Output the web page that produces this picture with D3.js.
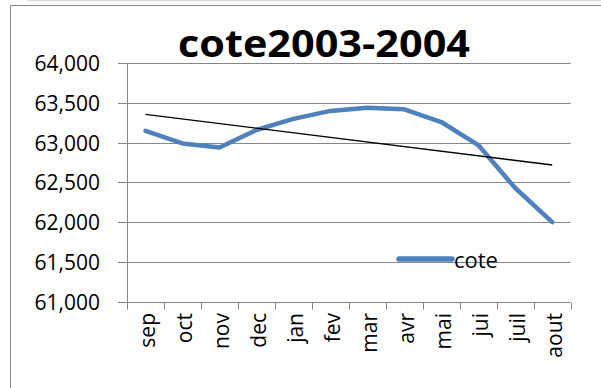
<!DOCTYPE html>
<html>
<head>
<meta charset="utf-8">
<script src="https://cdn.jsdelivr.net/npm/d3@7"></script>
<style>
  html, body { margin: 0; padding: 0; background: #fff; }
  svg { display: block; }
  text { font-family: "Open Sans", "Noto Sans", sans-serif; fill: #000; }
</style>
</head>
<body>
<svg id="chart" width="601" height="388"></svg>
<script>
// Monthly water level ("cote") for the 2003-2004 season
const months = ["sep", "oct", "nov", "dec", "jan", "fev", "mar", "avr", "mai", "jui", "juil", "aout"];
const cote = [63150, 62990, 62940, 63160, 63300, 63400, 63440, 63420, 63260, 62970, 62430, 62000];
const yTicks = [61000, 61500, 62000, 62500, 63000, 63500, 64000];
const title = "cote2003-2004";
const seriesName = "cote";

const svg = d3.select("#chart");
const W = 601, H = 388;
const plot = { left: 127, right: 570.7, top: 63.2, bottom: 301.7 };

// outer chart frame
svg.append("line").attr("x1", 27).attr("x2", W).attr("y1", 0.5).attr("y2", 0.5)
  .attr("stroke", "#d9d9d9").attr("stroke-width", 1);
svg.append("rect").attr("x", 10.5).attr("y", 5.5).attr("width", W).attr("height", H)
  .attr("fill", "#fff").attr("stroke", "#868686").attr("stroke-width", 1);

const x = d3.scaleBand().domain(months).range([plot.left, plot.right]).paddingInner(0).paddingOuter(0);
const y = d3.scaleLinear().domain([61000, 64000]).range([plot.bottom, plot.top]);
const fmt = d3.format(",.0f");

// horizontal gridlines
svg.append("g").selectAll("line").data(yTicks).join("line")
  .attr("x1", plot.left - 9).attr("x2", plot.right)
  .attr("y1", d => Math.round(y(d)) + 0.5).attr("y2", d => Math.round(y(d)) + 0.5)
  .attr("stroke", "#868686").attr("stroke-width", 1);

// y axis line
svg.append("line").attr("x1", plot.left + 0.5).attr("x2", plot.left + 0.5)
  .attr("y1", plot.top).attr("y2", plot.bottom + 8)
  .attr("stroke", "#868686");

// y tick labels
svg.append("g").selectAll("text").data(yTicks).join("text")
  .attr("x", 100).attr("y", d => y(d))
  .attr("text-anchor", "end").attr("dominant-baseline", "central")
  .attr("font-size", 21)
  .text(d => fmt(d));

// x category tick marks
const bounds = months.map(m => x(m)).concat([plot.right]);
svg.append("g").selectAll("line").data(bounds.slice(1)).join("line")
  .attr("x1", d => Math.round(d) + 0.5).attr("x2", d => Math.round(d) + 0.5)
  .attr("y1", Math.round(plot.bottom) + 0.5).attr("y2", plot.bottom + 8)
  .attr("stroke", "#868686");

// rotated category labels
svg.append("g").selectAll("text").data(months).join("text")
  .attr("transform", d => `translate(${x(d) + x.bandwidth() / 2 + 2},313) rotate(-90)`)
  .attr("text-anchor", "end").attr("dominant-baseline", "central")
  .attr("font-size", 21)
  .text(d => d);

// data line
const cx = d => x(d) + x.bandwidth() / 2;
const line = d3.line().x((d, i) => cx(months[i])).y(d => y(d));
svg.append("path").datum(cote)
  .attr("d", line).attr("fill", "none")
  .attr("stroke", "#4f81bd").attr("stroke-width", 4.5)
  .attr("stroke-linejoin", "round").attr("stroke-linecap", "round");

// linear trend (least squares over month index)
const n = cote.length;
const idx = d3.range(1, n + 1);
const mx = d3.mean(idx), my = d3.mean(cote);
const slope = d3.sum(idx, (k, i) => (k - mx) * (cote[i] - my)) / d3.sum(idx, k => (k - mx) ** 2);
const trend = k => my + slope * (k - mx);
svg.append("line")
  .attr("x1", cx(months[0])).attr("y1", y(trend(1)))
  .attr("x2", cx(months[n - 1])).attr("y2", y(trend(n)))
  .attr("stroke", "#000").attr("stroke-width", 1.3);

// legend
svg.append("line").attr("x1", 399).attr("x2", 452).attr("y1", 259).attr("y2", 259)
  .attr("stroke", "#4f81bd").attr("stroke-width", 5.5).attr("stroke-linecap", "round");
svg.append("text").attr("x", 454).attr("y", 259).attr("dominant-baseline", "central")
  .attr("font-size", 22).text(seriesName);

// title
svg.append("text").attr("x", 178).attr("y", 56.5)
  .attr("text-anchor", "start")
  .attr("font-size", 38).attr("font-weight", "bold")
  .attr("textLength", 292).attr("lengthAdjust", "spacingAndGlyphs")
  .text(title);
</script>
</body>
</html>
